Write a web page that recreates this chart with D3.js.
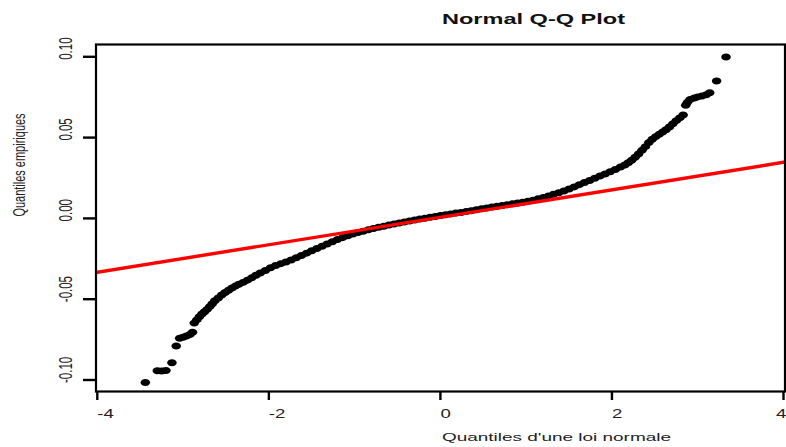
<!DOCTYPE html>
<html><head><meta charset="utf-8">
<script src="https://cdn.jsdelivr.net/npm/d3@7"></script>
<style>html,body{margin:0;padding:0;background:#fff;overflow:hidden} svg{display:block}</style>
</head><body>
<script>
// ---- data ----
const titleText = "Normal Q-Q Plot";
const xLabelText = "Quantiles d'une loi normale";
const yLabelText = "Quantiles empiriques";
const xTicks = [-4, -2, 0, 2, 4];
const xTickLabels = ["-4", "-2", "0", "2", "4"];
const yTicks = [-0.10, -0.05, 0.00, 0.05, 0.10];
const yTickLabels = ["-0.10", "-0.05", "0.00", "0.05", "0.10"];

// theoretical quantiles (x) and sample quantiles (y)
const theoreticalQ = [
 -3.44,-3.30,-3.25,-3.20,-3.13,-3.08,-3.04,-3.00,-2.96,-2.92,-2.89,
 -2.87,-2.84,-2.81,-2.78,-2.75,-2.72,-2.69,-2.66,-2.63,-2.59,-2.55,-2.51,-2.47,-2.43,-2.39,-2.35,
 -2.30,-2.25,-2.20,-2.15,-2.10,-2.04,-1.98,-1.92,-1.86,-1.80,-1.74,-1.68,-1.62,-1.56,-1.50,-1.44,
 -1.38,-1.32,-1.26,-1.20,-1.14,-1.08,-1.02,-0.96,-0.90,-0.84,-0.78,-0.72,-0.66,-0.60,-0.54,-0.48,
 -0.42,-0.36,-0.30,-0.24,-0.18,-0.12,-0.06,0.00,0.06,0.12,0.18,0.24,0.30,0.36,0.42,0.48,
 0.54,0.60,0.66,0.72,0.78,0.84,0.90,0.96,1.02,1.08,1.14,1.20,1.26,1.32,1.38,1.44,
 1.50,1.56,1.62,1.68,1.74,1.80,1.86,1.92,1.98,2.04,2.10,2.15,2.19,2.23,2.27,2.31,
 2.35,2.39,2.43,2.47,2.51,2.55,2.59,2.63,2.67,2.71,2.75,2.79,2.83,
 2.86,2.88,2.91,2.96,3.00,3.05,3.10,3.14,3.22,3.33
];
const sampleQ = [
 -0.1015,-0.0943,-0.0945,-0.0941,-0.0893,-0.0790,-0.0742,-0.0736,-0.0728,-0.0718,-0.0705,
 -0.0648,-0.0628,-0.0608,-0.0592,-0.0578,-0.0563,-0.0546,-0.0528,-0.0510,-0.0492,-0.0474,-0.0458,-0.0444,-0.0431,-0.0419,-0.0408,
 -0.0396,-0.0382,-0.0368,-0.0352,-0.0338,-0.0322,-0.0306,-0.0292,-0.0280,-0.0270,-0.0257,-0.0243,-0.0229,-0.0215,-0.0200,-0.0186,
 -0.0172,-0.0158,-0.0144,-0.0130,-0.0119,-0.0108,-0.0097,-0.0088,-0.0079,-0.0070,-0.0062,-0.0055,-0.0048,-0.0041,-0.0035,-0.0028,
 -0.0022,-0.0016,-0.0010,-0.0004,0.0001,0.0007,0.0012,0.0018,0.0023,0.0028,0.0033,0.0037,0.0042,0.0047,0.0053,0.0059,
 0.0064,0.0070,0.0075,0.0080,0.0085,0.0090,0.0095,0.0100,0.0106,0.0113,0.0121,0.0130,0.0139,0.0149,0.0159,0.0170,
 0.0182,0.0195,0.0209,0.0222,0.0235,0.0248,0.0262,0.0275,0.0289,0.0303,0.0318,0.0331,0.0344,0.0360,0.0378,0.0399,
 0.0421,0.0444,0.0469,0.0490,0.0506,0.0520,0.0534,0.0548,0.0565,0.0585,0.0605,0.0622,0.0640,
 0.0700,0.0718,0.0735,0.0745,0.0752,0.0758,0.0765,0.0778,0.0850,0.0999
];
// reference line (qqline): y = intercept + slope * x
const lineIntercept = 0.0007;
const lineSlope = 0.0085;

// ---- drawing ----
const W = 786, H = 447;
const box = {left: 96, top: 44.5, right: 785, bottom: 391.5};
const x = d3.scaleLinear().domain([-4, 4]).range([97.3, 783.5]);
const y = d3.scaleLinear().domain([-0.10, 0.10]).range([380, 56.8]);
const stretch = 1.55;

const svg = d3.select("body").append("svg").attr("width", W).attr("height", H);

svg.append("defs").append("clipPath").attr("id", "plotclip")
  .append("rect").attr("x", box.left).attr("y", box.top)
  .attr("width", box.right - box.left).attr("height", box.bottom - box.top);

const plot = svg.append("g").attr("clip-path", "url(#plotclip)");

const pts = theoreticalQ.map((q, i) => ({q, v: sampleQ[i]}));
plot.selectAll("ellipse.pt").data(pts).enter().append("ellipse")
  .attr("class", "pt")
  .attr("cx", d => x(d.q)).attr("cy", d => y(d.v))
  .attr("rx", 4.8).attr("ry", 3.5).attr("fill", "#000");

const x0 = x.invert(box.left - 2), x1 = x.invert(box.right + 2);
plot.append("line")
  .attr("x1", x(x0)).attr("y1", y(lineIntercept + lineSlope * x0))
  .attr("x2", x(x1)).attr("y2", y(lineIntercept + lineSlope * x1))
  .attr("stroke", "#ff0000").attr("stroke-width", 3.4);

// box
svg.append("rect").attr("x", box.left).attr("y", box.top)
  .attr("width", box.right - box.left).attr("height", box.bottom - box.top)
  .attr("fill", "none").attr("stroke", "#000").attr("stroke-width", 2.2);

// x axis ticks
svg.selectAll("line.xt").data(xTicks).enter().append("line")
  .attr("x1", d => x(d)).attr("x2", d => x(d))
  .attr("y1", box.bottom).attr("y2", 400)
  .attr("stroke", "#000").attr("stroke-width", 2.4);
svg.selectAll("text.xtl").data(xTicks).enter().append("text")
  .attr("transform", d => `translate(${Math.min(x(d), W - 10)},417.5) scale(${stretch},1)`)
  .attr("font-family", "Liberation Sans, Arial, sans-serif")
  .attr("font-size", 12).attr("fill", "#222")
  .text((d, i) => xTickLabels[i]);

// y axis ticks
svg.selectAll("line.yt").data(yTicks).enter().append("line")
  .attr("y1", d => y(d)).attr("y2", d => y(d))
  .attr("x1", 83).attr("x2", box.left)
  .attr("stroke", "#000").attr("stroke-width", 2.4);
svg.selectAll("text.ytl").data(yTicks).enter().append("text")
  .attr("transform", d => `translate(72,${y(d) + 3}) scale(${stretch},1) rotate(-90)`)
  .attr("font-family", "Liberation Sans, Arial, sans-serif")
  .attr("font-size", 11.5).attr("fill", "#222")
  .text((d, i) => yTickLabels[i]);

// title
svg.append("text").attr("x", 442).attr("y", 24)
  .attr("font-family", "Liberation Sans, Arial, sans-serif")
  .attr("font-weight", "bold").attr("font-size", 14).attr("fill", "#111")
  .attr("textLength", 183).attr("lengthAdjust", "spacingAndGlyphs")
  .text(titleText);

// x label
svg.append("text").attr("x", 442).attr("y", 441)
  .attr("font-family", "Liberation Sans, Arial, sans-serif")
  .attr("font-size", 11).attr("fill", "#222")
  .attr("textLength", 229).attr("lengthAdjust", "spacingAndGlyphs")
  .text(xLabelText);

// y label
svg.append("text")
  .attr("transform", `translate(24.5,165) scale(${stretch},1) rotate(-90)`)
  .attr("text-anchor", "middle")
  .attr("font-family", "Liberation Sans, Arial, sans-serif")
  .attr("font-size", 11).attr("fill", "#222")
  .text(yLabelText);
</script>
</body></html>
